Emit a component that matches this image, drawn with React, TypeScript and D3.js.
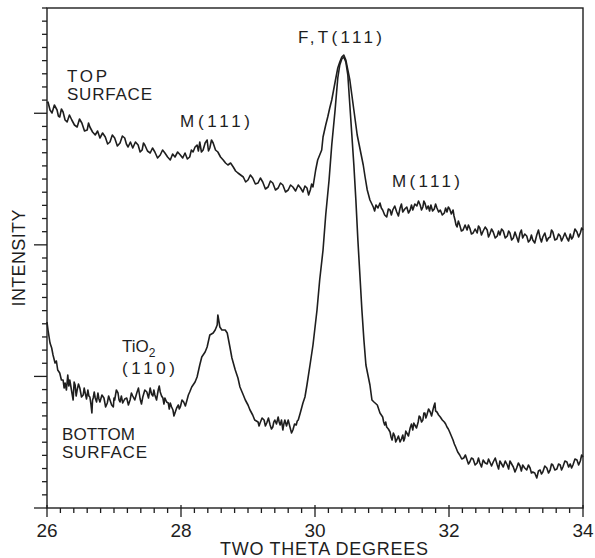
import React from "react";
import * as d3 from "d3";

// [2-theta (degrees), intensity (arbitrary units)]
const topScan: [number, number][] = [
  [26.0,405],[26.015,406],[26.045,398],[26.075,395],[26.11,403],[26.15,398],[26.17,392],[26.19,391],[26.215,399],[26.24,396],
  [26.27,388],[26.3,386],[26.335,393],[26.37,388],[26.41,383],[26.45,381],[26.485,389],[26.52,385],[26.56,377],[26.6,378],
  [26.62,385],[26.64,381],[26.68,376],[26.72,373],[26.755,377],[26.79,370],[26.83,375],[26.87,371],[26.905,364],[26.94,366],
  [26.975,373],[27.01,370],[27.05,362],[27.09,365],[27.125,372],[27.16,370],[27.185,364],[27.21,361],[27.245,366],[27.28,360],
  [27.32,366],[27.36,363],[27.39,356],[27.42,358],[27.44,365],[27.46,363],[27.5,357],[27.54,355],[27.575,360],[27.61,356],
  [27.65,350],[27.69,353],[27.725,358],[27.76,355],[27.8,351],[27.84,348],[27.875,354],[27.91,351],[27.95,356],[27.99,353],
  [28.025,350],[28.06,355],[28.095,349],[28.13,351],[28.155,358],[28.18,356],[28.21,361],[28.24,363],[28.26,357],[28.28,366],
  [28.305,356],[28.33,358],[28.36,365],[28.39,368],[28.41,357],[28.43,360],[28.455,368],[28.48,365],[28.515,358],[28.55,356],
  [28.59,351],[28.63,348],[28.665,345],[28.7,343],[28.74,345],[28.78,341],[28.815,337],[28.85,335],[28.89,333],[28.93,331],
  [28.965,326],[29.0,328],[29.035,333],[29.07,330],[29.11,324],[29.15,325],[29.185,330],[29.22,326],[29.26,319],[29.3,321],
  [29.335,327],[29.37,325],[29.41,318],[29.45,320],[29.485,325],[29.52,323],[29.56,316],[29.6,318],[29.635,323],[29.67,321],
  [29.71,317],[29.75,323],[29.785,320],[29.82,316],[29.85,322],[29.88,320],[29.905,313],[29.93,318],[29.95,324],[29.97,321],
  [30.01,338],[30.04,348],[30.1,358],[30.12,371],[30.16,383],[30.19,391],[30.22,400],[30.25,408],[30.3,426],[30.34,440],
  [30.37,446],[30.4,451],[30.43,453],[30.46,448],[30.49,438],[30.52,428],[30.55,413],[30.58,398],[30.61,383],[30.63,373],
  [30.66,363],[30.69,353],[30.72,343],[30.75,330],[30.78,318],[30.82,308],[30.87,301],[30.89,297],[30.91,303],[30.94,300],
  [30.97,305],[30.99,300],[31.01,298],[31.04,293],[31.07,291],[31.095,299],[31.12,298],[31.14,293],[31.16,298],[31.19,302],
  [31.22,296],[31.245,292],[31.27,300],[31.29,304],[31.31,296],[31.34,299],[31.37,301],[31.395,295],[31.42,298],[31.44,303],
  [31.46,298],[31.49,304],[31.52,302],[31.545,307],[31.57,303],[31.59,298],[31.61,301],[31.625,307],[31.64,305],[31.665,299],
  [31.69,302],[31.71,297],[31.73,303],[31.755,297],[31.78,299],[31.8,304],[31.82,300],[31.845,296],[31.87,298],[31.9,293],
  [31.93,295],[31.95,300],[31.97,296],[31.99,301],[32.01,299],[32.035,294],[32.06,298],[32.075,292],[32.09,288],[32.105,283],
  [32.12,281],[32.14,287],[32.16,283],[32.185,277],[32.21,278],[32.24,283],[32.27,278],[32.29,283],[32.31,280],[32.335,274],
  [32.36,275],[32.39,279],[32.42,275],[32.44,282],[32.46,280],[32.485,273],[32.51,277],[32.54,281],[32.57,278],[32.59,271],
  [32.61,274],[32.635,279],[32.66,276],[32.69,270],[32.72,272],[32.74,277],[32.76,273],[32.785,279],[32.81,277],[32.84,270],
  [32.87,272],[32.89,277],[32.91,275],[32.935,268],[32.96,270],[32.985,276],[33.01,271],[33.035,266],[33.06,275],[33.08,278],
  [33.1,270],[33.13,274],[33.16,272],[33.185,266],[33.21,268],[33.23,273],[33.25,268],[33.28,265],[33.31,273],[33.335,278],
  [33.36,270],[33.38,266],[33.4,271],[33.43,275],[33.46,267],[33.485,270],[33.51,271],[33.53,278],[33.55,276],[33.58,268],
  [33.61,269],[33.635,274],[33.66,272],[33.68,267],[33.7,270],[33.73,275],[33.76,270],[33.785,267],[33.81,274],[33.83,269],
  [33.85,271],[33.88,279],[33.91,276],[33.935,271],[33.96,275],[33.98,280],[34.0,278],
];

const bottomScan: [number, number][] = [
  [26.0,186],[26.015,178],[26.045,165],[26.07,160],[26.09,153],[26.12,145],[26.14,147],[26.16,138],[26.19,135],[26.215,128],
  [26.24,128],[26.255,120],[26.27,125],[26.29,118],[26.31,133],[26.325,122],[26.34,128],[26.365,118],[26.39,108],[26.405,126],
  [26.42,123],[26.435,112],[26.45,118],[26.47,124],[26.49,120],[26.515,111],[26.54,113],[26.555,120],[26.57,115],[26.59,109],
  [26.61,118],[26.625,112],[26.64,111],[26.655,104],[26.67,95],[26.68,108],[26.69,110],[26.705,116],[26.72,110],[26.74,106],
  [26.76,115],[26.775,109],[26.79,106],[26.82,113],[26.85,110],[26.875,101],[26.9,105],[26.92,112],[26.94,108],[26.965,103],
  [26.99,101],[27.0,110],[27.01,108],[27.035,118],[27.06,115],[27.075,108],[27.09,106],[27.11,112],[27.13,105],[27.16,109],
  [27.19,110],[27.215,103],[27.24,108],[27.26,115],[27.28,112],[27.31,108],[27.34,115],[27.365,120],[27.39,109],[27.41,104],
  [27.43,111],[27.46,118],[27.49,116],[27.515,110],[27.54,120],[27.56,114],[27.58,112],[27.595,118],[27.61,113],[27.635,108],
  [27.66,118],[27.675,122],[27.69,116],[27.71,112],[27.73,110],[27.745,104],[27.76,110],[27.785,106],[27.81,105],[27.825,99],
  [27.84,105],[27.86,101],[27.88,98],[27.895,92],[27.91,95],[27.935,100],[27.96,103],[27.975,99],[27.99,101],[28.015,108],
  [28.04,106],[28.065,102],[28.09,108],[28.11,113],[28.13,116],[28.16,121],[28.21,126],[28.24,131],[28.28,143],[28.31,151],
  [28.36,156],[28.39,161],[28.43,173],[28.48,175],[28.51,178],[28.54,183],[28.55,193],[28.58,181],[28.61,178],[28.66,178],
  [28.69,175],[28.73,161],[28.76,150],[28.81,138],[28.85,130],[28.88,121],[28.93,113],[28.96,108],[29.0,103],[29.03,98],
  [29.07,93],[29.1,88],[29.15,86],[29.165,82],[29.18,85],[29.21,90],[29.24,88],[29.26,82],[29.28,85],[29.305,90],
  [29.33,83],[29.35,79],[29.37,81],[29.385,86],[29.4,88],[29.425,84],[29.45,91],[29.465,86],[29.48,83],[29.5,88],
  [29.52,78],[29.535,84],[29.55,88],[29.575,82],[29.6,88],[29.615,84],[29.63,80],[29.65,75],[29.67,78],[29.695,84],
  [29.72,83],[29.735,87],[29.75,88],[29.78,95],[29.82,105],[29.85,111],[29.88,123],[29.93,145],[29.97,163],[30.03,198],
  [30.07,228],[30.12,258],[30.16,293],[30.21,328],[30.25,363],[30.3,398],[30.34,430],[30.37,443],[30.4,449],[30.43,451],
  [30.46,446],[30.49,433],[30.52,403],[30.55,373],[30.58,343],[30.61,308],[30.64,268],[30.67,233],[30.7,198],[30.73,168],
  [30.76,143],[30.79,133],[30.82,123],[30.85,108],[30.88,106],[30.93,103],[30.97,95],[31.01,91],[31.025,86],[31.04,83],
  [31.055,86],[31.07,81],[31.095,79],[31.12,76],[31.135,71],[31.15,68],[31.17,75],[31.19,72],[31.205,66],[31.22,68],
  [31.245,72],[31.27,66],[31.29,69],[31.31,73],[31.325,67],[31.34,70],[31.355,77],[31.37,75],[31.395,72],[31.42,80],
  [31.44,84],[31.46,78],[31.475,85],[31.49,83],[31.515,80],[31.54,86],[31.555,92],[31.57,91],[31.59,86],[31.61,88],
  [31.625,95],[31.64,95],[31.655,90],[31.67,93],[31.695,99],[31.72,96],[31.74,92],[31.76,98],[31.775,102],[31.79,105],
  [31.8,97],[31.82,96],[31.845,93],[31.87,91],[31.9,88],[31.93,86],[31.95,84],[31.97,81],[31.99,79],[32.01,76],
  [32.035,72],[32.06,68],[32.08,64],[32.1,61],[32.13,56],[32.16,53],[32.19,49],[32.22,50],[32.245,53],[32.27,48],
  [32.29,44],[32.31,46],[32.335,50],[32.36,49],[32.39,43],[32.42,45],[32.44,50],[32.46,45],[32.485,41],[32.51,48],
  [32.54,45],[32.57,44],[32.59,49],[32.61,46],[32.635,42],[32.66,46],[32.69,50],[32.72,43],[32.74,39],[32.76,47],
  [32.785,44],[32.81,41],[32.84,47],[32.87,43],[32.89,39],[32.91,47],[32.935,44],[32.96,41],[32.985,36],[33.01,40],
  [33.035,45],[33.06,42],[33.08,37],[33.1,43],[33.13,40],[33.16,38],[33.185,43],[33.21,40],[33.23,35],[33.25,36],
  [33.28,35],[33.31,30],[33.335,37],[33.36,38],[33.38,34],[33.4,36],[33.43,42],[33.46,40],[33.485,35],[33.51,38],
  [33.53,44],[33.55,43],[33.58,38],[33.61,39],[33.635,44],[33.66,43],[33.68,38],[33.7,41],[33.73,47],[33.76,46],
  [33.785,41],[33.81,44],[33.83,40],[33.85,43],[33.88,49],[33.91,48],[33.935,43],[33.96,47],[33.98,53],[34.0,51],
];

const xTickValues = [26, 28, 30, 32, 34];
const xTickLabels = ["26", "28", "30", "32", "34"];

const W = 595, H = 558;
const M = { left: 47, right: 583, top: 8, bottom: 508 };
const FONT = "'Liberation Sans', Arial, Helvetica, sans-serif";
const INK = "#1e1e1e";

export default function App() {
  const x = d3.scaleLinear().domain([26, 34]).range([M.left, M.right]);
  const y = d3.scaleLinear().domain([0, 500]).range([M.bottom, M.top]);

  const line = d3
    .line<[number, number]>()
    .x((d) => x(d[0]))
    .y((d) => y(d[1]));

  const xMinor = d3.range(0, 41).map((i) => 26 + i * 0.2);
  const yMinor = d3.range(0, 39).map((i) => (i * 500) / 38);

  return (
    <svg
      width={W}
      height={H}
      viewBox={`0 0 ${W} ${H}`}
      style={{ position: "absolute", left: 0, top: 0, background: "#fff" }}
    >
      <rect x={0} y={0} width={W} height={H} fill="#fff" />
      <rect
        x={M.left}
        y={M.top}
        width={M.right - M.left}
        height={M.bottom - M.top}
        fill="none"
        stroke={INK}
        strokeWidth={1.4}
      />
      {xMinor.map((v, i) => {
        const major = i % 10 === 0;
        return (
          <line
            key={"xt" + i}
            x1={x(v)}
            x2={x(v)}
            y1={major ? M.bottom - 3 : M.bottom}
            y2={major ? M.bottom + 9 : M.bottom + 5}
            stroke={INK}
            strokeWidth={1.3}
          />
        );
      })}
      {yMinor.map((v, i) => {
        const major = i % 10 === 0;
        return (
          <line
            key={"yt" + i}
            x1={major ? M.left - 13 : M.left - 5}
            x2={M.left}
            y1={y(v)}
            y2={y(v)}
            stroke={INK}
            strokeWidth={1.3}
          />
        );
      })}
      {xTickValues.map((v, i) => (
        <text
          key={"xl" + i}
          x={x(v)}
          y={537}
          textAnchor="middle"
          fontFamily={FONT}
          fontSize={19}
          fill={INK}
        >
          {xTickLabels[i]}
        </text>
      ))}
      <path d={line(topScan) || ""} fill="none" stroke={INK} strokeWidth={1.6} strokeLinejoin="round" />
      <path d={line(bottomScan) || ""} fill="none" stroke={INK} strokeWidth={1.6} strokeLinejoin="round" />

      <text x={220} y={555} fontFamily={FONT} fontSize={18} fill={INK} textLength={208} lengthAdjust="spacing">
        TWO THETA DEGREES
      </text>
      <text
        transform="translate(25,258) rotate(-90)"
        textAnchor="middle"
        fontFamily={FONT}
        fontSize={18}
        fill={INK}
        textLength={97}
        lengthAdjust="spacing"
      >
        INTENSITY
      </text>

      <g fontFamily={FONT} fontSize={17} fill={INK}>
        <text x={67} y={82} textLength={40} lengthAdjust="spacing">TOP</text>
        <text x={67} y={100} textLength={85} lengthAdjust="spacing">SURFACE</text>
        <text x={180} y={127} textLength={70} lengthAdjust="spacing">M(111)</text>
        <text x={298} y={43} textLength={84} lengthAdjust="spacing">F,T(111)</text>
        <text x={392} y={187} textLength={68} lengthAdjust="spacing">M(111)</text>
        <text x={122} y={352}>
          TiO<tspan fontSize={12} dy={5}>2</tspan>
        </text>
        <text x={122} y={374} textLength={53} lengthAdjust="spacing">(110)</text>
        <text x={62} y={440} textLength={73} lengthAdjust="spacing">BOTTOM</text>
        <text x={62} y={458} textLength={85} lengthAdjust="spacing">SURFACE</text>
      </g>
    </svg>
  );
}
